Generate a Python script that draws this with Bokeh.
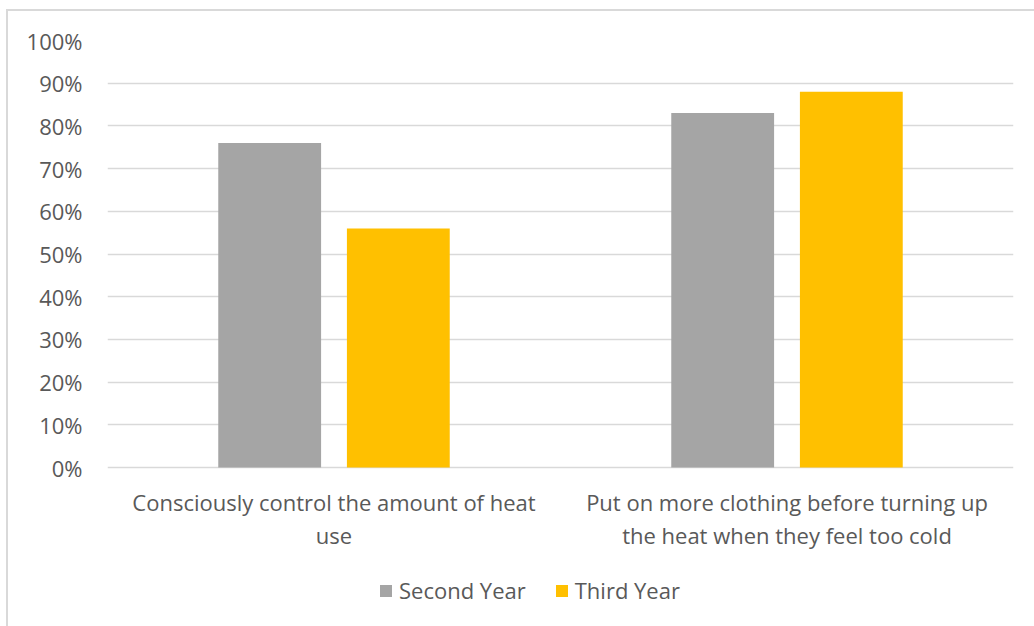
from bokeh.plotting import figure
from bokeh.models import (FactorRange, Range1d, ColumnDataSource, NumeralTickFormatter, FixedTicker,
                          Legend, LegendItem)
from bokeh.core.properties import value
from bokeh.transform import dodge
from bokeh.embed import file_html
from bokeh.resources import INLINE

categories = ["Consciously control the amount of heat use",
              "Put on more clothing before turning up the heat when they feel too cold"]
label_line1 = ["Consciously control the amount of heat",
               "Put on more clothing before turning up"]
label_line2 = ["use", "the heat when they feel too cold"]
series_names = ["Second Year", "Third Year"]
second_year = [0.76, 0.83]
third_year = [0.56, 0.88]
y_ticks = [0, 0.1, 0.2, 0.3, 0.4, 0.5, 0.6, 0.7, 0.8, 0.9, 1.0]

colors = ["#A5A5A5", "#FFC000"]
FONT = "Open Sans"
FS = "22px"
TXT = "#595959"

src = ColumnDataSource(dict(cat=categories, second=second_year, third=third_year,
                            line1=label_line1, line2=label_line2, base=[0, 0]))

# frame extends below 0% so that the category labels and legend live inside it
PX_PER_UNIT = 427.0
FRAME_H = 617 - 29
p = figure(x_range=FactorRange(factors=categories, range_padding=0),
           y_range=Range1d(1.0 - FRAME_H / PX_PER_UNIT, 1.0), width=1028, height=617,
           output_backend="svg", toolbar_location=None, x_axis_location=None,
           min_border_left=99, min_border_right=23, min_border_top=29, min_border_bottom=0)
p.margin = (9, 0, 0, 6)
p.styles = {"border-left": "2px solid #D9D9D9", "border-top": "2px solid #D9D9D9"}
p.outline_line_color = None

r1 = p.vbar(x=dodge("cat", -0.142, range=p.x_range), top="second", width=0.227,
            source=src, fill_color=colors[0], line_color=None)
r2 = p.vbar(x=dodge("cat", 0.142, range=p.x_range), top="third", width=0.227,
            source=src, fill_color=colors[1], line_color=None)

p.yaxis.ticker = FixedTicker(ticks=y_ticks)
p.yaxis.formatter = NumeralTickFormatter(format="0%")
p.yaxis.axis_line_color = None
p.yaxis.major_tick_line_color = None
p.yaxis.minor_tick_line_color = None
p.yaxis.major_label_standoff = 19
p.yaxis.major_label_text_font = FONT
p.yaxis.major_label_text_font_size = FS
p.yaxis.major_label_text_color = TXT

p.xgrid.grid_line_color = None
p.ygrid.ticker = FixedTicker(ticks=y_ticks)
p.ygrid.grid_line_color = "#D9D9D9"
p.ygrid.grid_line_width = 1.5

for col, off in (("line1", 34), ("line2", 67)):
    p.text(x="cat", y="base", text=col, source=src, y_offset=off,
           text_align="center", text_baseline="middle",
           text_font=value(FONT), text_font_size=value(FS), text_color=TXT)

legend = Legend(items=[LegendItem(label=series_names[0], renderers=[r1]),
                       LegendItem(label=series_names[1], renderers=[r2])],
                orientation="horizontal", location=(271, 23),
                label_text_font=FONT, label_text_font_size=FS, label_text_color=TXT,
                glyph_width=15, glyph_height=15, spacing=28, label_standoff=6,
                border_line_color=None, background_fill_alpha=0, margin=0, padding=0)
p.add_layout(legend)

open("out.html", "w").write(file_html(p, INLINE))
